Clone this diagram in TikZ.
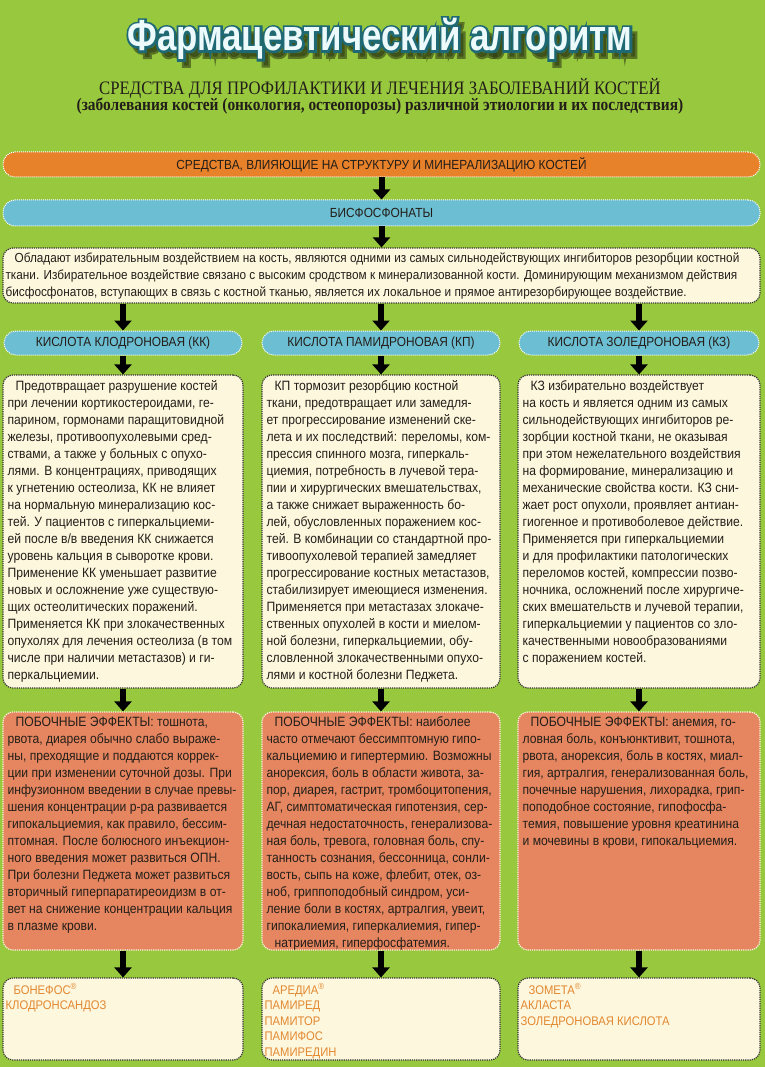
\documentclass[tikz,border=0pt]{standalone}
\usepackage{fontspec}
\setmainfont{Liberation Sans}[FakeStretch=0.9]
\newfontfamily\titlefont{Liberation Sans Bold}[FakeStretch=0.8]
\newfontfamily\titleedge{Liberation Sans Bold}[FakeStretch=0.8,FakeBold=10]
\newfontfamily\subfont{Liberation Serif}[FakeStretch=0.88]
\usepackage{tikz}
\usetikzlibrary{arrows.meta,positioning}

\definecolor{bggreen}{RGB}{152,200,62}
\definecolor{barorange}{RGB}{232,130,42}
\definecolor{barblue}{RGB}{108,190,210}
\definecolor{cream}{RGB}{253,247,222}
\definecolor{salmon}{RGB}{229,134,96}
\definecolor{brandorange}{RGB}{226,136,48}
\definecolor{ink}{RGB}{35,30,25}
\definecolor{titleteal}{RGB}{30,105,115}
\definecolor{titlewhite}{RGB}{236,250,252}

\begin{document}
\begin{tikzpicture}[x=1pt,y=-1pt,
    bar/.style={draw=white,densely dotted,line width=1pt,rounded corners=12pt,
                inner sep=0pt,minimum height=25pt,
                font=\fontsize{13.2}{15}\selectfont,text=ink},
    panel/.style={draw=black!80,densely dotted,line width=1.2pt,
                  rounded corners=10pt,fill=cream,inner sep=0pt},
    sidepanel/.style={panel,draw=cream,fill=salmon},
    body/.style={align=left,inner sep=0pt,text=ink,
                 font=\fontsize{13.5}{17}\selectfont},
    brand/.style={align=left,inner sep=0pt,text=brandorange,
                  font=\fontsize{12.5}{15.5}\selectfont},
    down/.style={-{Triangle[width=17pt,length=10pt]},line width=6pt},
  ]
  \fill[bggreen] (0,0) rectangle (765,1067);
  \useasboundingbox (0,0) rectangle (765,1067);

  % title
  \node[text=black!70!bggreen,opacity=0.6,font=\titleedge\fontsize{43.5}{45}\selectfont]
    (titleshadow) at (385,45) {Фармацевтический алгоритм};
  \node[text=titleteal,font=\titleedge\fontsize{43.5}{45}\selectfont]
    (titleedge) at (380,39) {Фармацевтический алгоритм};
  \node[text=titlewhite,font=\titlefont\fontsize{43.5}{45}\selectfont]
    (title) at (380,39) {Фармацевтический алгоритм};
  \node[text=ink,font=\subfont\fontsize{19}{21}\selectfont]
    (sub1) at (380,88) {СРЕДСТВА ДЛЯ ПРОФИЛАКТИКИ И ЛЕЧЕНИЯ ЗАБОЛЕВАНИЙ КОСТЕЙ};
  \node[text=ink,font=\subfont\fontsize{17.5}{19}\bfseries]
    (sub2) at (380,106) {(заболевания костей (онкология, остеопорозы) различной этиологии и их последствия)};

  % top of the tree
  \node[bar,fill=barorange,minimum width=757pt] (means) at (381.5,164.5)
    {СРЕДСТВА, ВЛИЯЮЩИЕ НА СТРУКТУРУ И МИНЕРАЛИЗАЦИЮ КОСТЕЙ};
  \node[bar,fill=barblue,minimum width=757pt,minimum height=26pt] (bisph) at (381.5,213)
    {БИСФОСФОНАТЫ};
  \node[panel,minimum width=757pt,minimum height=55pt] (about) at (381.5,275.5) {};
  \node[body,font=\fontsize{13.1}{17}\selectfont,below right=5pt and 3pt of about.north west] (about-txt)
    {\hspace*{9pt}Обладают избирательным воздействием на кость, являются одними из самых сильнодействующих ингибиторов резорбции костной\\
     ткани. Избирательное воздействие связано с высоким сродством к минерализованной кости. Доминирующим механизмом действия\\
     бисфосфонатов, вступающих в связь с костной тканью, является их локальное и прямое антирезорбирующее воздействие.};

  \draw[down] (means) -- (bisph);
  \draw[down] (bisph) -- (about);

  % columns
  \node[bar,fill=barblue,minimum width=238pt,minimum height=24pt] (head-kk) at (123,343)
    {КИСЛОТА КЛОДРОНОВАЯ (КК)};
  \node[bar,fill=barblue,minimum width=238pt,minimum height=24pt] (head-kp) at (381,343)
    {КИСЛОТА ПАМИДРОНОВАЯ (КП)};
  \node[bar,fill=barblue,minimum width=240pt,minimum height=24pt] (head-kz) at (639,343)
    {КИСЛОТА ЗОЛЕДРОНОВАЯ (КЗ)};

  \node[panel,minimum width=240pt,minimum height=313pt] (info-kk) at (123,531.5) {};
  \node[panel,minimum width=238pt,minimum height=313pt] (info-kp) at (381,531.5) {};
  \node[panel,minimum width=242pt,minimum height=313pt] (info-kz) at (639,531.5) {};

  \node[sidepanel,minimum width=240pt,minimum height=238pt] (side-kk) at (123,831) {};
  \node[sidepanel,minimum width=238pt,minimum height=238pt] (side-kp) at (381,831) {};
  \node[sidepanel,minimum width=242pt,minimum height=238pt] (side-kz) at (639,831) {};

  \node[panel,minimum width=240pt,minimum height=82pt] (brand-kk) at (123,1019) {};
  \node[panel,minimum width=238pt,minimum height=82pt] (brand-kp) at (381,1019) {};
  \node[panel,minimum width=242pt,minimum height=82pt] (brand-kz) at (639,1019) {};

  \foreach \c in {kk,kp,kz} {
    \draw[down] (about.south -| head-\c) -- (head-\c);
    \draw[down] (head-\c) -- (info-\c);
    \draw[down] (info-\c) -- (side-\c);
    \draw[down] (side-\c) -- (brand-\c);
  }

  % column texts
  \node[body,below right=6pt and 5pt of info-kk.north west] (txt-kk)
    {\hspace*{8pt}Предотвращает разрушение костей\\
     при лечении кортикостероидами, ге-\\
     парином, гормонами паращитовидной\\
     железы, противоопухолевыми сред-\\
     ствами, а также у больных с опухо-\\
     лями. В концентрациях, приводящих\\
     к угнетению остеолиза, КК не влияет\\
     на нормальную минерализацию кос-\\
     тей. У пациентов с гиперкальциеми-\\
     ей после в/в введения КК снижается\\
     уровень кальция в сыворотке крови.\\
     Применение КК уменьшает развитие\\
     новых и осложнение уже существую-\\
     щих остеолитических поражений.\\
     Применяется КК при злокачественных\\
     опухолях для лечения остеолиза (в том\\
     числе при наличии метастазов) и ги-\\
     перкальциемии.};
  \node[body,below right=6pt and 5pt of info-kp.north west] (txt-kp)
    {\hspace*{8pt}КП тормозит резорбцию костной\\
     ткани, предотвращает или замедля-\\
     ет прогрессирование изменений ске-\\
     лета и их последствий: переломы, ком-\\
     прессия спинного мозга, гиперкаль-\\
     циемия, потребность в лучевой тера-\\
     пии и хирургических вмешательствах,\\
     а также снижает выраженность бо-\\
     лей, обусловленных поражением кос-\\
     тей. В комбинации со стандартной про-\\
     тивоопухолевой терапией замедляет\\
     прогрессирование костных метастазов,\\
     стабилизирует имеющиеся изменения.\\
     Применяется при метастазах злокаче-\\
     ственных опухолей в кости и миелом-\\
     ной болезни, гиперкальциемии, обу-\\
     словленной злокачественными опухо-\\
     лями и костной болезни Педжета.};
  \node[body,below right=6pt and 5pt of info-kz.north west] (txt-kz)
    {\hspace*{8pt}КЗ избирательно воздействует\\
     на кость и является одним из самых\\
     сильнодействующих ингибиторов ре-\\
     зорбции костной ткани, не оказывая\\
     при этом нежелательного воздействия\\
     на формирование, минерализацию и\\
     механические свойства кости. КЗ сни-\\
     жает рост опухоли, проявляет антиан-\\
     гиогенное и противоболевое действие.\\
     Применяется при гиперкальциемии\\
     и для профилактики патологических\\
     переломов костей, компрессии позво-\\
     ночника, осложнений после хирургиче-\\
     ских вмешательств и лучевой терапии,\\
     гиперкальциемии у пациентов со зло-\\
     качественными новообразованиями\\
     с поражением костей.};

  % side effects
  \node[body,below right=5pt and 5pt of side-kk.north west] (fx-kk)
    {\hspace*{8pt}ПОБОЧНЫЕ ЭФФЕКТЫ: тошнота,\\
     рвота, диарея обычно слабо выраже-\\
     ны, преходящие и поддаются коррек-\\
     ции при изменении суточной дозы. При\\
     инфузионном введении в случае превы-\\
     шения концентрации р-ра развивается\\
     гипокальциемия, как правило, бессим-\\
     птомная. После болюсного инъекцион-\\
     ного введения может развиться ОПН.\\
     При болезни Педжета может развиться\\
     вторичный гиперпаратиреоидизм в от-\\
     вет на снижение концентрации кальция\\
     в плазме крови.};
  \node[body,below right=5pt and 5pt of side-kp.north west] (fx-kp)
    {\hspace*{8pt}ПОБОЧНЫЕ ЭФФЕКТЫ: наиболее\\
     часто отмечают бессимптомную гипо-\\
     кальциемию и гипертермию. Возможны\\
     анорексия, боль в области живота, за-\\
     пор, диарея, гастрит, тромбоцитопения,\\
     АГ, симптоматическая гипотензия, сер-\\
     дечная недостаточность, генерализова-\\
     ная боль, тревога, головная боль, спу-\\
     танность сознания, бессонница, сонли-\\
     вость, сыпь на коже, флебит, отек, оз-\\
     ноб, гриппоподобный синдром, уси-\\
     ление боли в костях, артралгия, увеит,\\
     гипокалиемия, гиперкалиемия, гипер-\\
     \hspace*{8pt}натриемия, гиперфосфатемия.};
  \node[body,below right=5pt and 5pt of side-kz.north west] (fx-kz)
    {\hspace*{8pt}ПОБОЧНЫЕ ЭФФЕКТЫ: анемия, го-\\
     ловная боль, конъюнктивит, тошнота,\\
     рвота, анорексия, боль в костях, миал-\\
     гия, артралгия, генерализованная боль,\\
     почечные нарушения, лихорадка, грип-\\
     поподобное состояние, гипофосфа-\\
     темия, повышение уровня креатинина\\
     и мочевины в крови, гипокальциемия.};

  % trade names
  \node[brand,below right=6pt and 3pt of brand-kk.north west] (names-kk)
    {\hspace*{8pt}БОНЕФОС\textsuperscript{®}\\
     КЛОДРОНСАНДОЗ};
  \node[brand,below right=6pt and 3pt of brand-kp.north west] (names-kp)
    {\hspace*{8pt}АРЕДИА\textsuperscript{®}\\
     ПАМИРЕД\\ ПАМИТОР\\ ПАМИФОС\\ ПАМИРЕДИН};
  \node[brand,below right=6pt and 3pt of brand-kz.north west] (names-kz)
    {\hspace*{8pt}ЗОМЕТА\textsuperscript{®}\\
     АКЛАСТА\\ ЗОЛЕДРОНОВАЯ КИСЛОТА};
\end{tikzpicture}
\end{document}
